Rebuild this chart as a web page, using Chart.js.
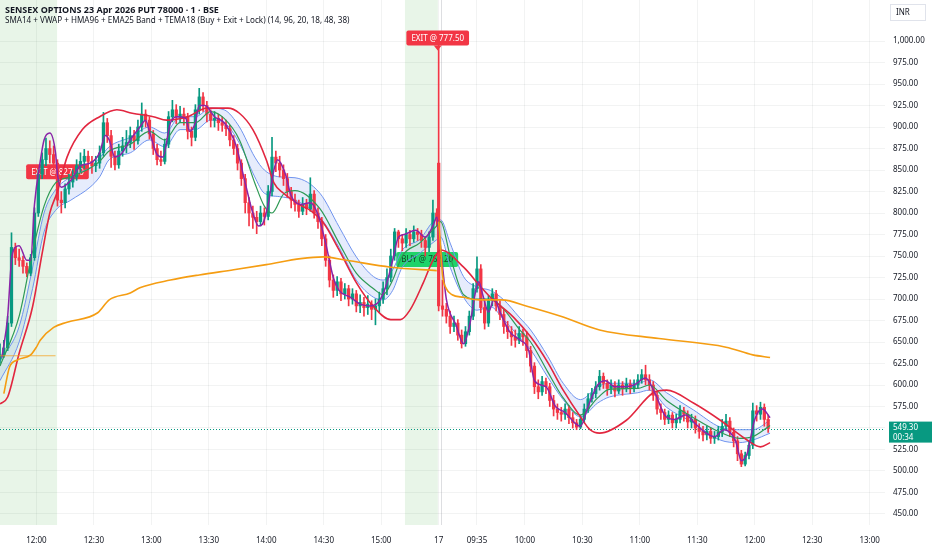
<!DOCTYPE html>
<html lang="en">
<head>
<meta charset="UTF-8">
<title>SENSEX OPTIONS 23 Apr 2026 PUT 78000</title>
<script src="https://cdn.jsdelivr.net/npm/chart.js"></script>
<style>
  html, body { margin: 0; padding: 0; background: #fff; }
  #wrap { width: 932px; height: 550px; position: relative; }
</style>
</head>
<body>
<div id="wrap"><canvas id="chart"></canvas></div>
<script>
// x index = minutes from 11:41 (day 1); day 2 starts at 229 (09:15). candles are 2 min
const tickT = [19, 49, 79, 109, 139, 169, 199, 229, 249, 274, 304, 334, 364, 394, 424, 454];
const tickLabels = ['12:00', '12:30', '13:00', '13:30', '14:00', '14:30', '15:00', '17', '09:35', '10:00', '10:30', '11:00', '11:30', '12:00', '12:30', '13:00'];

const day1Start = 0, day1Open = 630;
const day1Close = [635,643,672,760,748,745,738,730,748,800, 845,862,875,868,858,815,812,828,836,842,
  855,860,866,860,855,858,870,905,890,866, 856,872,878,882,890,884,900,915,908,892,
  875,862,860,880,912,920,912,915,912,895, 888,920,935,925,915,908,910,905,902,898,
  885,875,858,840,812,800,795,790,800,796, 825,865,858,850,840,825,815,810,802,810,
  805,822,800,790,770,745,722,710,720,706, 712,700,706,692,696,690,694,688,692,700,
  712,725,750,778,770,765,775,770,778,775, 768,760,772,800,792];
const day1High = [648,652,680,777,765,758,750,742,752,806, 850,870,887,884,878,862,825,834,845,850,
  862,870,874,872,866,866,878,917,910,896, 872,880,888,896,900,896,908,928,920,912,
  896,880,872,886,918,931,926,924,922,916, 900,926,945,940,930,920,918,915,912,908,
  902,890,880,862,845,818,808,802,808,806, 832,888,872,866,856,846,830,822,815,818,
  816,841,826,806,795,775,750,728,726,724, 718,716,712,710,705,702,704,698,700,708,
  720,735,758,782,780,775,782,780,785,782, 780,772,778,815,805];
const day1Low = [625,632,640,668,740,738,730,726,727,745, 796,840,855,858,850,808,800,806,822,830,
  838,848,852,850,846,848,852,866,882,853, 850,852,866,870,876,874,880,895,900,886,
  868,856,855,857,876,906,904,905,902,886, 878,884,915,918,906,900,900,896,895,890,
  878,868,850,832,800,785,782,776,785,786, 792,820,848,842,832,818,806,802,795,798,
  798,802,794,782,762,738,714,702,704,698, 700,692,694,685,684,680,682,676,670,684,
  695,705,720,745,760,756,760,762,766,768, 760,750,755,768,785];

const day2Start = 229, day2Open = 858;
const day2Close = [692,688,680,668,672,658,648,662,680,712, 735,690,672,698,706,692,682,668,662,656,
  652,660,656,640,622,598,592,604,598,582, 572,568,566,572,562,556,551,560,572,584,
  590,598,610,602,596,600,593,600,596,601, 596,600,606,612,606,600,588,572,568,560,
  565,556,560,570,566,557,560,550,546,542, 546,538,540,545,552,558,545,535,520,508,
  518,530,570,566,574,560,549.3];
const day2High = [1000,722,695,686,680,676,664,668,686,718, 749,740,700,704,712,710,698,688,674,668,
  664,668,665,662,645,626,606,610,608,602, 588,578,574,578,576,568,560,565,578,590,
  596,604,617,614,606,606,604,606,604,608, 606,606,612,618,623,612,604,592,578,572,
  570,568,566,576,574,570,566,564,555,552, 552,550,546,552,560,566,562,550,540,524,
  522,535,579,576,580,578,565];
const day2Low = [686,680,672,660,662,652,643,645,658,676, 708,684,665,668,692,686,676,660,654,646,
  644,648,646,632,615,590,584,588,590,575, 564,560,558,560,555,550,548,549,556,568,
  580,585,594,596,588,590,586,590,588,592, 590,592,596,602,600,594,582,566,560,554,
  555,550,550,556,558,550,550,544,538,535, 536,532,532,536,540,548,540,528,512,505,
  506,514,526,558,560,552,545];

// indicators, read at sample points
const vwap1T = [2,5,9,16,19,21,28,35,51,57,68,73,89,104,122,139,157,169,181,204,228];
const vwap1V = [590,621,629,635,644,652,667,673,684,699,707,713,722,728,734,740,747,749,745,737,733];
const vwap2T = [229,230,231,233,236,242,250,262,276,294,313,344,379,393,402];
const vwap2V = [790,760,728,712,705,702,699,699,691,679,664,654,644,635,632];

const hmaT = [0,4,10,17,22,26,30,35,43,52, 61,69,80,87,98,108,119,125,132,139,
  143,148,157,162,169,177,186,195,204,209, 214,221,226,230,242,251,256,268,277,286,
  294,303,308,313,327,341,348,362,376,390, 397,402];
const hmaV = [578,586,637,691,753,800,825,865,897,912, 920,916,912,908,912,922,922,916,897,862,
  835,823,809,803,788,757,719,691,676,676, 687,719,745,757,737,714,702,679,656,626,
  594,563,548,544,559,591,594,579,559,536, 528,533];

const bandT = [0,10,17,23,29,37,47,52,57,68, 78,86,94,102,110,117,125,133,138,146,
  154,167,177,186,195,200,205,210,219,228, 230,235,242,249,256,263,271,277,286,294,
  303,312,318,333,339,348,362,376,386,393, 402];
const bandUpper = [628,668,736,800,827,842,853,864,877,888, 900,893,912,912,922,920,900,865,850,842,
  841,823,784,749,726,722,734,757,769,792, 792,765,726,714,710,699,679,664,633,602,
  583,598,602,602,606,591,571,551,548,548, 559];
const bandLower = [605,650,712,778,803,815,830,842,862,870, 885,877,897,897,908,905,881,842,823,819,
  815,795,760,722,702,699,710,737,753,769, 772,737,702,687,691,676,656,641,609,583,
  563,579,586,591,594,574,556,536,533,536, 544];

const temaT = [0,10,17,23,29,37,47,52,57,68, 78,86,94,102,110,117,125,133,138,142,
  148,154,167,177,186,195,200,205,210,219, 228,230,235,242,249,256,263,271,277,286,
  294,303,312,318,333,339,348,362,376,386, 393,402];
const temaV = [622,680,755,808,835,842,852,860,872,880, 895,885,905,905,918,910,885,835,808,800,
  822,826,805,765,730,712,705,722,750,765, 785,790,750,705,700,700,688,665,650,615,
  585,565,585,595,596,600,582,562,545,538, 540,553];

const smaT = [1,4,6,8,10,14,16,18,21,23, 26,29,30,32,37,42,47,52,55,57,
  60,63,68,73,76,78,82,85,89,93, 97,99,102,104,107,112,117,123,128,132,
  135,137,140,143,145,149,152,157,162,166, 170,174,177,183,188,193,197,201,205,208,
  211,217,222,226,228, 230,233,238,242,245,250,252,255,258,261,
  266,271,276,279,285,290,295,300,303,307, 312,316,321,326,331,337,342,347,352,358,
  363,368,373,378,384,387,390,394,398,402];
const smaV = [632,680,745,760,762,745,745,810,860,885, 893,870,845,830,838,855,858,870,890,885,
  865,868,885,900,908,895,868,865,905,912, 910,895,905,925,925,912,905,880,835,800,
  785,787,810,850,862,845,820,810,812,798, 765,725,710,702,694,692,695,712,745,772,
  775,780,772,785,795, 760,700,670,648,668,720,705,685,700,685,
  662,653,640,605,598,575,568,556,552,575, 600,605,598,598,600,608,590,565,560,565,
  555,545,540,548,535,512,520,560,572,562];

const lockT = [0, 29];
const lockV = [634, 634];

// background sessions and trade labels
const shadeFrom = [0, 211.4];
const shadeTo = [29.8, 228.6];
const sessionBreak = 230;
const tradeText = ['EXIT @ 827.00', 'EXIT @ 777.50', 'BUY @ 767.20'];
const tradeT = [30, 228.5, 223];
const tradeP = [848, 1003.5, 746];
const tradeKind = ['exit', 'exit', 'buy'];
const lastPrice = 549.3;
const lastTimer = '00:34';

const UP = '#089981', DOWN = '#f23645';

function buildCandles(start, open, closes, highs, lows) {
  const out = [];
  let o = open;
  for (let i = 0; i < closes.length; i++) {
    out.push({ t: start + i * 2, o: o, h: highs[i], l: lows[i], c: closes[i] });
    o = closes[i];
  }
  return out;
}
const candles = buildCandles(day1Start, day1Open, day1Close, day1High, day1Low)
  .concat(buildCandles(day2Start, day2Open, day2Close, day2High, day2Low));
const candleColors = candles.map(k => k.c >= k.o ? UP : DOWN);

function pts(ts, vs) { return ts.map((t, i) => ({ x: t, y: vs[i] })); }

function lineSet(ts, vs, color, width, order, extra) {
  return Object.assign({
    type: 'line', data: pts(ts, vs), borderColor: color, borderWidth: width,
    pointRadius: 0, cubicInterpolationMode: 'monotone', fill: false, order: order
  }, extra || {});
}

const fmt = v => v.toLocaleString('en-US', { minimumFractionDigits: 2, maximumFractionDigits: 2 });

const overlay = {
  id: 'overlay',
  beforeDatasetsDraw(chart) {
    const { ctx, chartArea: a, scales: { x, y } } = chart;
    ctx.save();
    ctx.fillStyle = 'rgba(76,175,80,0.13)';
    for (let i = 0; i < shadeFrom.length; i++) {
      const x0 = x.getPixelForValue(shadeFrom[i]);
      const x1 = x.getPixelForValue(shadeTo[i]);
      ctx.fillRect(x0, a.top, x1 - x0, a.bottom - a.top);
    }
    const sx = Math.round(x.getPixelForValue(sessionBreak)) + 0.5;
    ctx.strokeStyle = 'rgba(120,123,134,0.25)';
    ctx.lineWidth = 1;
    ctx.beginPath(); ctx.moveTo(sx, a.top); ctx.lineTo(sx, a.bottom); ctx.stroke();

    const yp = Math.round(y.getPixelForValue(lastPrice)) + 0.5;
    ctx.strokeStyle = UP;
    ctx.setLineDash([1, 2]);
    ctx.beginPath(); ctx.moveTo(a.left, yp); ctx.lineTo(a.right, yp); ctx.stroke();
    ctx.setLineDash([]);

    ctx.font = '8px "Noto Sans"';
    ctx.textAlign = 'center';
    ctx.textBaseline = 'middle';
    for (let i = 0; i < tradeText.length; i++) {
      const cx = x.getPixelForValue(tradeT[i]);
      const cy = y.getPixelForValue(tradeP[i]);
      const w = ctx.measureText(tradeText[i]).width + 10, h = 15;
      ctx.fillStyle = tradeKind[i] === 'buy' ? '#1fd36a' : '#f23645';
      ctx.beginPath();
      ctx.roundRect(cx - w / 2, cy - h / 2, w, h, 2);
      ctx.fill();
      if (i === 1) {
        ctx.beginPath();
        ctx.moveTo(cx - 4, cy + h / 2); ctx.lineTo(cx + 4, cy + h / 2); ctx.lineTo(cx, cy + h / 2 + 5);
        ctx.fill();
      }
      ctx.fillStyle = tradeKind[i] === 'buy' ? '#143d24' : '#ffffff';
      ctx.fillText(tradeText[i], cx, cy + 0.5);
    }
    ctx.restore();
  },
  afterDraw(chart) {
    const { ctx, chartArea: a, scales: { y } } = chart;
    ctx.save();
    ctx.fillStyle = '#131722';
    ctx.textAlign = 'left';
    ctx.textBaseline = 'middle';
    ctx.font = 'bold 9px "Noto Sans"';
    ctx.fillText('SENSEX OPTIONS 23 Apr 2026 PUT 78000 · 1 · BSE', 5, 10);
    ctx.font = '8.1px "Noto Sans"';
    ctx.fillText('SMA14 + VWAP + HMA96 + EMA25 Band + TEMA18 (Buy + Exit + Lock) (14, 96, 20, 18, 48, 38)', 5, 21);

    ctx.fillStyle = '#ffffff';
    ctx.fillRect(890, 4, 35, 16);
    ctx.strokeStyle = '#e0e3eb';
    ctx.strokeRect(890.5, 4.5, 35, 16);
    ctx.fillStyle = '#131722';
    ctx.font = '8px "Noto Sans"';
    ctx.fillText('INR', 896, 12.5);

    const yp = y.getPixelForValue(lastPrice);
    ctx.fillStyle = UP;
    ctx.fillRect(a.right + 4, yp - 7, 43, 21);
    ctx.fillStyle = '#ffffff';
    ctx.fillText(fmt(lastPrice), a.right + 8, yp - 1);
    ctx.fillText(lastTimer, a.right + 8, yp + 9);
    ctx.restore();
  }
};

Chart.defaults.font.family = '"Noto Sans", sans-serif';
Chart.defaults.font.size = 8;
Chart.defaults.color = '#131722';

new Chart(document.getElementById('chart'), {
  type: 'bar',
  data: {
    datasets: [
      lineSet(bandT, bandUpper, '#6f93ee', 1, 8, { fill: '+1', backgroundColor: 'rgba(98,135,235,0.16)' }),
      lineSet(bandT, bandLower, '#6f93ee', 1, 8),
      {
        type: 'bar', data: candles.map(k => ({ x: k.t, y: [k.l, k.h] })),
        backgroundColor: candleColors, barThickness: 1, grouped: false, order: 6
      },
      {
        type: 'bar', data: candles.map(k => ({ x: k.t, y: [Math.min(k.o, k.c), Math.max(k.o, k.c)] })),
        backgroundColor: candleColors, barThickness: 2.6, minBarLength: 1, grouped: false, order: 5
      },
      lineSet(temaT, temaV, '#2f9a55', 1.2, 3),
      lineSet(smaT, smaV, '#8a24a8', 1.5, 2),
      lineSet(hmaT, hmaV, '#e2263f', 1.6, 2),
      lineSet(vwap1T, vwap1V, '#f59d12', 1.6, 1),
      lineSet(vwap2T, vwap2V, '#f59d12', 1.6, 1),
      lineSet(lockT, lockV, 'rgba(245,157,18,0.7)', 1, 1, { cubicInterpolationMode: 'default', tension: 0 })
    ]
  },
  options: {
    responsive: true,
    maintainAspectRatio: false,
    animation: false,
    events: [],
    layout: { padding: 0 },
    plugins: {
      legend: { display: false },
      tooltip: { enabled: false },
      filler: { drawTime: 'beforeDatasetsDraw' }
    },
    scales: {
      x: {
        type: 'linear', min: 0, max: 462, offset: false,
        grid: { color: 'rgba(42,46,57,0.06)', offset: false, drawTicks: false },
        border: { display: false },
        ticks: {
          autoSkip: false, maxRotation: 0, padding: 11,
          callback: (v, i) => tickLabels[i]
        },
        afterBuildTicks: s => { s.ticks = tickT.map(v => ({ value: v })); },
        afterFit: s => { s.height = 25; s.paddingLeft = 0; s.paddingRight = 0; }
      },
      y: {
        position: 'right', min: 437.2, max: 1047.7,
        grid: { color: 'rgba(42,46,57,0.06)', drawTicks: false },
        border: { display: false },
        ticks: { stepSize: 25, padding: 8, crossAlign: 'near', callback: v => fmt(v) },
        afterBuildTicks: s => {
          s.ticks = s.ticks.filter(t => t.value >= 450 && t.value <= 1000 && Math.abs(t.value % 25) < 0.01);
        },
        afterFit: s => { s.width = 47; s.paddingTop = 0; s.paddingBottom = 0; }
      }
    }
  },
  plugins: [overlay]
});
</script>
</body>
</html>
